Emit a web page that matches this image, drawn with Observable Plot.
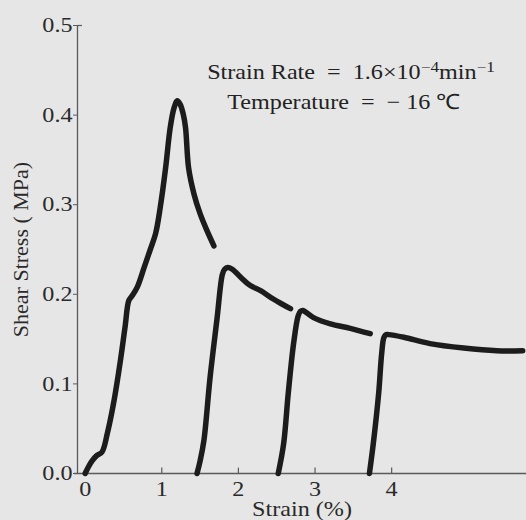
<!DOCTYPE html>
<html>
<head>
<meta charset="utf-8">
<script src="https://cdn.jsdelivr.net/npm/d3@7"></script>
<script src="https://cdn.jsdelivr.net/npm/@observablehq/plot@0.6"></script>
<style>
  html, body { margin: 0; padding: 0; background: #e6e6e6; }
  #chart svg { display: block; background: transparent; }
</style>
</head>
<body>
<div id="chart"></div>
<script>
// Loading curves (strain in %, shear stress in MPa)
const seg1Strain = [0, 0.04, 0.09, 0.15, 0.22, 0.29, 0.37, 0.46, 0.52, 0.57, 0.61, 0.68, 0.77, 0.85, 0.92, 0.98, 1.05, 1.11, 1.16, 1.20, 1.24, 1.28, 1.31, 1.35, 1.42, 1.50, 1.59, 1.68];
const seg1Stress = [0, 0.007, 0.014, 0.020, 0.024, 0.045, 0.078, 0.126, 0.163, 0.193, 0.198, 0.208, 0.230, 0.250, 0.268, 0.297, 0.341, 0.386, 0.408, 0.416, 0.412, 0.401, 0.386, 0.341, 0.312, 0.290, 0.271, 0.254];

const seg2Strain = [1.46, 1.50, 1.55, 1.63, 1.72, 1.79, 1.82, 1.86, 1.92, 2.03, 2.15, 2.29, 2.45, 2.55, 2.68];
const seg2Stress = [0, 0.014, 0.037, 0.107, 0.172, 0.222, 0.228, 0.230, 0.228, 0.219, 0.210, 0.204, 0.195, 0.190, 0.184];

const seg3Strain = [2.52, 2.59, 2.65, 2.72, 2.78, 2.81, 2.84, 2.98, 3.20, 3.46, 3.72];
const seg3Stress = [0, 0.033, 0.089, 0.145, 0.176, 0.181, 0.182, 0.174, 0.167, 0.162, 0.156];

const seg4Strain = [3.71, 3.76, 3.83, 3.87, 3.90, 3.93, 3.96, 4.16, 4.50, 4.94, 5.37, 5.71];
const seg4Stress = [0, 0.033, 0.089, 0.134, 0.152, 0.155, 0.155, 0.152, 0.145, 0.140, 0.137, 0.137];

const xTicks = [0, 1, 2, 3, 4];
const yTicks = [0, 0.1, 0.2, 0.3, 0.4, 0.5];
const xLabel = "Strain (%)";
const yLabel = "Shear Stress ( MPa)";
const noteLines = ["Strain Rate  =  1.6\u00d710\u207b\u2074min\u207b\u00b9", "Temperature  =  \u2212 16 \u2103"];
const noteX = [3.47, 3.38];
const noteY = [0.448, 0.414];

const segs = [
  [seg1Strain, seg1Stress],
  [seg2Strain, seg2Stress],
  [seg3Strain, seg3Stress],
  [seg4Strain, seg4Stress]
];
const curveData = segs.flatMap(([xs, ys], i) => xs.map((x, j) => ({seg: i, strain: x, stress: ys[j]})));
const notes = noteLines.map((t, i) => ({t, x: noteX[i], y: noteY[i]}));

const ink = "#1c1c1c";
const axisInk = "#5a5a5a";

const chart = Plot.plot({
  width: 526,
  height: 520,
  marginLeft: 77,
  marginRight: 0,
  marginTop: 25,
  marginBottom: 47,
  style: {fontFamily: "'Liberation Serif', 'Times New Roman', serif", fontSize: "21px", color: "#2a2a2a", background: "transparent"},
  x: {domain: [-0.1, 5.76]},
  y: {domain: [0, 0.5]},
  marks: [
    Plot.ruleX([-0.1], {y1: 0, y2: 0.5, stroke: axisInk, strokeWidth: 1.3}),
    Plot.ruleY([0], {x1: -0.14, x2: 5.76, stroke: axisInk, strokeWidth: 1.3}),
    Plot.ruleY([0.5], {x1: -0.1, x2: -0.035, stroke: axisInk, strokeWidth: 1.2}),
    Plot.ruleX(xTicks.slice(1), {y1: 0, y2: 0.006, stroke: axisInk, strokeWidth: 1.2}),
    Plot.axisY({ticks: yTicks, tickFormat: d3.format(".1f"), tickSize: 4, tickPadding: 1, label: null, stroke: axisInk, fontSize: 21}),
    Plot.axisX({ticks: xTicks, tickFormat: d3.format("d"), tickSize: 0, tickPadding: 8, label: null, fontSize: 21}),
    Plot.text([xLabel], {frameAnchor: "bottom", textAnchor: "middle", lineAnchor: "middle", dy: 36, fontSize: 21}),
    Plot.text([yLabel], {frameAnchor: "left", textAnchor: "middle", lineAnchor: "middle", rotate: -90, dx: -57, fontSize: 22}),
    Plot.line(curveData, {x: "strain", y: "stress", z: "seg", stroke: ink, strokeWidth: 5.5, curve: "catmull-rom", strokeLinecap: "round", strokeLinejoin: "round"}),
    Plot.text(notes, {x: "x", y: "y", text: "t", fontSize: 21, fill: "#222"})
  ]
});
document.getElementById("chart").appendChild(chart);

// Superscripts as real tspans, and the scan's slightly wide horizontal lettering
const supMap = {"\u207b": "\u2212", "\u2074": "4", "\u00b9": "1"};
chart.querySelectorAll("text").forEach((t) => {
  const s = t.textContent;
  if (s === yLabel) return;
  if (/[\u207b\u2074\u00b9]/.test(s) && t.children.length === 0) {
    t.textContent = "";
    const parts = s.match(/[\u207b\u2074\u00b9]+|[^\u207b\u2074\u00b9]+/g);
    const ns = "http://www.w3.org/2000/svg";
    for (const p of parts) {
      const sp = document.createElementNS(ns, "tspan");
      if (supMap[p[0]]) {
        sp.textContent = [...p].map((c) => supMap[c]).join("");
        sp.setAttribute("font-size", "15");
        sp.setAttribute("baseline-shift", "45%");
      } else {
        sp.textContent = p;
      }
      t.appendChild(sp);
    }
  }
  const tr = t.getAttribute("transform") || "";
  if (!tr.includes("rotate")) t.setAttribute("transform", (tr + " scale(1.15,1)").trim());
});
</script>
</body>
</html>
